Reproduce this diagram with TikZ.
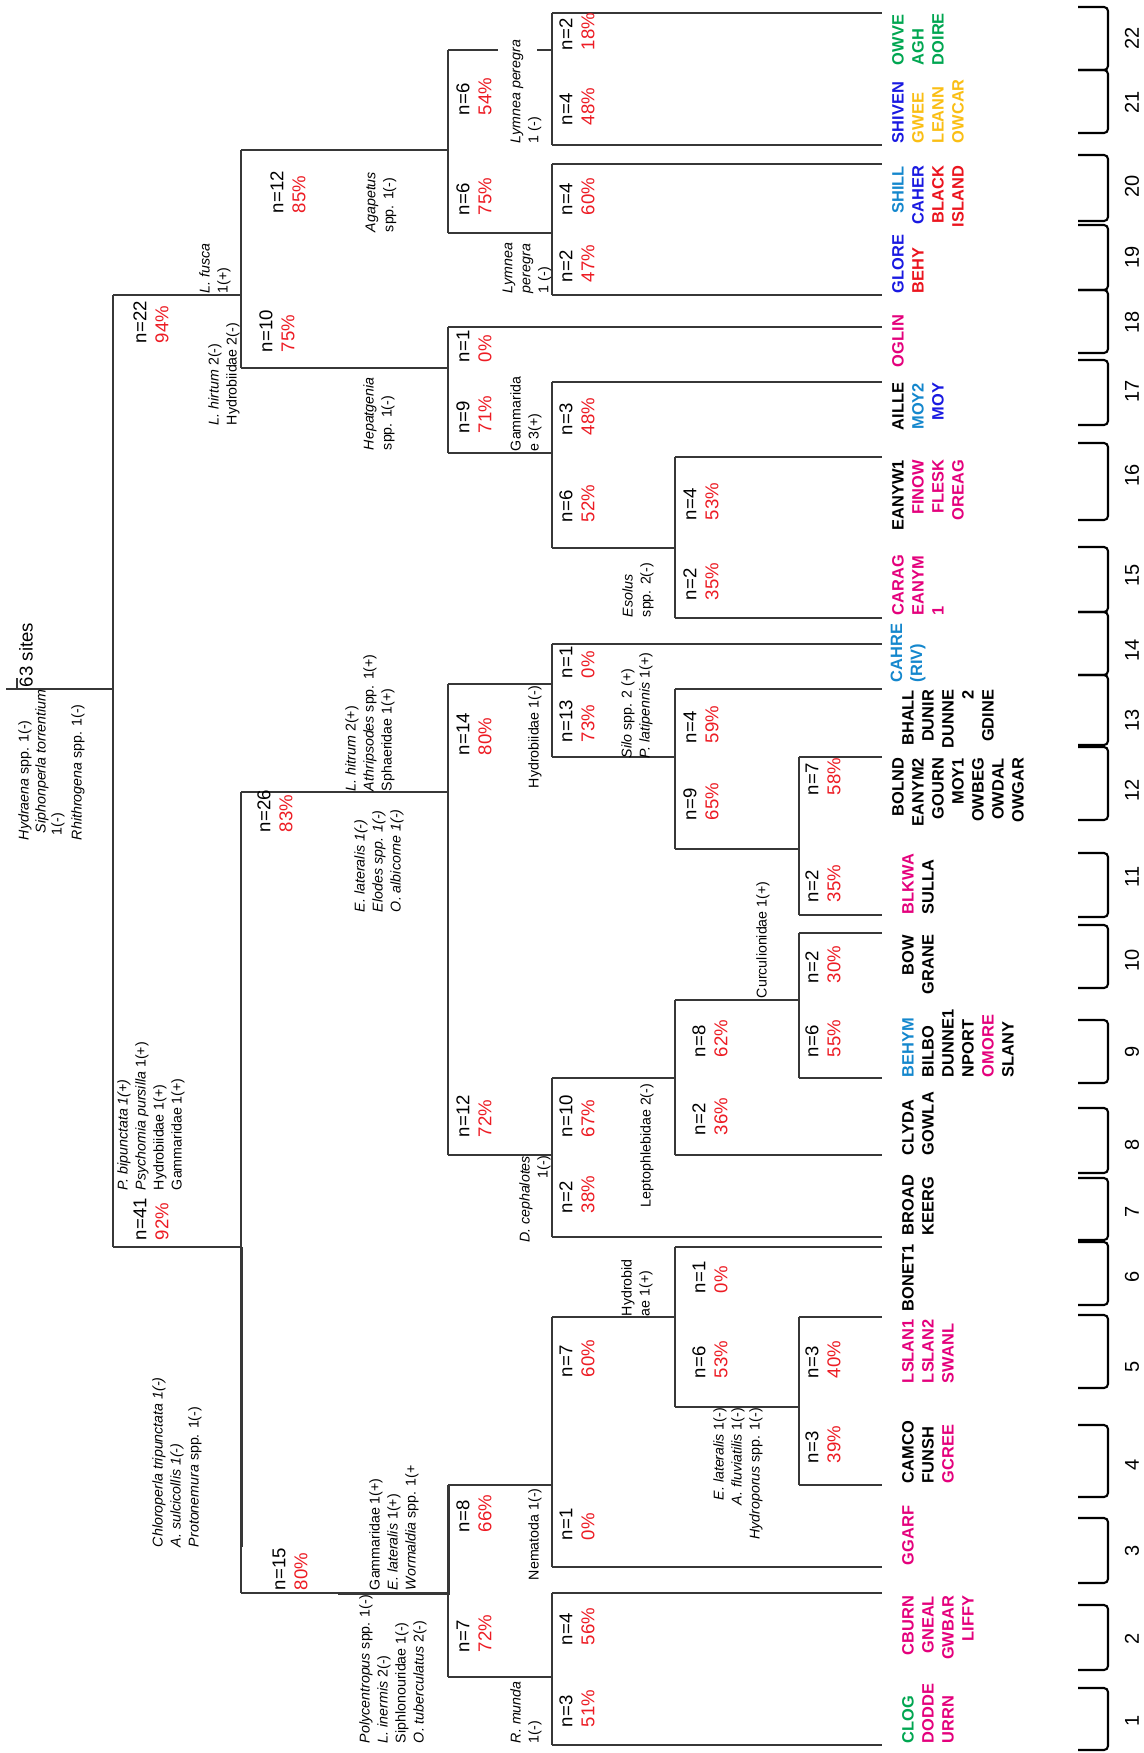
\documentclass[tikz,border=0pt]{standalone}
\usepackage{fontspec}
\setmainfont{Liberation Sans}
\definecolor{pr}{RGB}{237,28,36}
\definecolor{cg}{RGB}{0,166,81}
\definecolor{cm}{RGB}{228,0,124}
\definecolor{cb}{RGB}{25,25,225}
\definecolor{cl}{RGB}{20,135,205}
\definecolor{cy}{RGB}{250,190,20}
\definecolor{cr}{RGB}{235,20,30}
\definecolor{ln}{RGB}{55,55,55}
\begin{document}
\begin{tikzpicture}[x=0.5pt,y=-0.5pt,
  every node/.style={inner sep=0pt,outer sep=0pt},
  rot/.style={rotate=90},
  nlab/.style={rot,anchor=west,align=left,font=\fontsize{9.3}{11}\selectfont},
  sp/.style={rot,font=\fontsize{7.1}{9}\selectfont},
  spL/.style={sp,anchor=west,align=left},
  spR/.style={sp,anchor=east,align=right},
  site/.style={rot,font=\fontsize{8.2}{10}\selectfont\bfseries},
  siteL/.style={site,anchor=west,align=left},
  siteR/.style={site,anchor=east,align=right},
  grp/.style={rot,font=\fontsize{10}{12}\selectfont},
  tree/.style={line width=0.75pt,draw=ln},
  heavy/.style={line width=1.5pt,draw=ln},
  brk/.style={line width=1.05pt,draw=black,rounded corners=2pt}]
\fill[white] (0,0) rectangle (1144,1753);
\useasboundingbox (0,0) rectangle (1144,1753);

% ---------- tree coordinates ----------
\coordinate (E) at (882,0);
\coordinate (r0) at (6,689);
\coordinate (rs) at (17,678);
\coordinate (rsb) at (17,689);
\coordinate (Rt) at (113,295);  \coordinate (Rb) at (113,1247);
\coordinate (At) at (241,150);  \coordinate (Ab) at (241,368);
\coordinate (Bt) at (448,50);   \coordinate (Bb) at (448,233);
\coordinate (Ct) at (552,13);   \coordinate (Cb) at (552,145);
\coordinate (Dt) at (552,164);  \coordinate (Db) at (552,295);
\coordinate (Ft) at (448,327);  \coordinate (Fb) at (448,453);
\coordinate (Gt) at (552,382);  \coordinate (Gb) at (552,548);
\coordinate (Ht) at (675,457);  \coordinate (Hb) at (675,618);
\coordinate (It) at (241,792);  \coordinate (Ib) at (241,1593);
\coordinate (Jt) at (448,684);  \coordinate (Jb) at (448,1155);
\coordinate (Kt) at (552,644);  \coordinate (Kb) at (552,757);
\coordinate (Lt) at (675,689);  \coordinate (Lb) at (675,849);
\coordinate (Mt) at (799,757);  \coordinate (Mb) at (799,915);
\coordinate (Nt) at (552,1078); \coordinate (Nb) at (552,1237);
\coordinate (Ot) at (675,1000); \coordinate (Ob) at (675,1155);
\coordinate (Pt) at (799,933);  \coordinate (Pb) at (799,1078);
\coordinate (Qt) at (448,1485); \coordinate (Qb) at (448,1677);
\coordinate (St) at (552,1317); \coordinate (Sb) at (552,1567);
\coordinate (Tt) at (675,1247); \coordinate (Tb) at (675,1407);
\coordinate (Ut) at (799,1317); \coordinate (Ub) at (799,1485);
\coordinate (Vt) at (552,1593); \coordinate (Vb) at (552,1745);
\coordinate (g1) at (498,50);   \coordinate (g2) at (537,50);
\coordinate (Ih) at (241,1547); \coordinate (Qh) at (338,1593);

% root
\draw[tree] (r0) -- (r0 -| Rt);
\draw[tree] (rs) -- (rsb);
% vertical bars
\foreach \n in {R,A,B,C,D,F,G,H,I,J,K,L,M,N,O,P,Q,S,T,U,V}
  \draw[tree] (\n t) -- (\n b);
% connections
\draw[tree] (Rt) -- (Rt -| At);
\draw[tree] (At) -- (At -| Bt);
\draw[tree] (Bt) -- (g1);
\draw[tree] (g2) -- (Bt -| Ct);
\draw[tree] (Bb) -- (Bb -| Dt);
\draw[tree] (Ab) -- (Ab -| Ft);
\draw[tree] (Fb) -- (Fb -| Gt);
\draw[tree] (Gb) -- (Gb -| Ht);
\draw[tree] (Rb) -- (Rb -| It);
\draw[tree] (It) -- (It -| Jt);
\draw[tree] (Jt) -- (Jt -| Kt);
\draw[tree] (Kb) -- (Kb -| Lt);
\draw[tree] (Lb) -- (Lb -| Mt);
\draw[tree] (Jb) -- (Jb -| Nt);
\draw[tree] (Nt) -- (Nt -| Ot);
\draw[tree] (Ot) -- (Ot -| Pt);
\draw[tree] (Ib) -- (Ib -| Qt);
\draw[tree] (Qt) -- (Qt -| St);
\draw[tree] (St) -- (St -| Tt);
\draw[tree] (Tb) -- (Tb -| Ut);
\draw[tree] (Qb) -- (Qb -| Vt);
% heavy segments
\draw[heavy] (Rb -| It) -- (Ih);
\draw[heavy] (Qh) -- (Ib -| Qt) -- (Qt);
% leaves
\foreach \p in {Ct,Cb,Dt,Db,Ft,Gt,Ht,Hb,Kt,Lt,Mt,Mb,Pt,Pb,Ob,Nb,Tt,Ut,Ub,Sb,Vt,Vb}
  \draw[tree] (\p) -- (\p -| E);

% ---------- n / % labels ----------
\node[nlab] (root) at (26,687) {63 sites};
\node[nlab] (k1) at (151,343) {n=22\\\textcolor{pr}{94\%}};
\node[nlab] (k2) at (288,213) {n=12\\\textcolor{pr}{85\%}};
\node[nlab] (k3) at (277,352) {n=10\\\textcolor{pr}{75\%}};
\node[nlab] (k4) at (474,115) {n=6\\\textcolor{pr}{54\%}};
\node[nlab] (k5) at (474,215) {n=6\\\textcolor{pr}{75\%}};
\node[nlab] (k6) at (577,50) {n=2\\\textcolor{pr}{18\%}};
\node[nlab] (k7) at (577,125) {n=4\\\textcolor{pr}{48\%}};
\node[nlab] (k8) at (577,215) {n=4\\\textcolor{pr}{60\%}};
\node[nlab] (k9) at (577,282) {n=2\\\textcolor{pr}{47\%}};
\node[nlab] (k10) at (474,362) {n=1\\\textcolor{pr}{0\%}};
\node[nlab] (k11) at (474,433) {n=9\\\textcolor{pr}{71\%}};
\node[nlab] (k12) at (577,435) {n=3\\\textcolor{pr}{48\%}};
\node[nlab] (k13) at (577,522) {n=6\\\textcolor{pr}{52\%}};
\node[nlab] (k14) at (701,520) {n=4\\\textcolor{pr}{53\%}};
\node[nlab] (k15) at (701,600) {n=2\\\textcolor{pr}{35\%}};
\node[nlab] (k16) at (151,1240) {n=41\\\textcolor{pr}{92\%}};
\node[nlab] (k17) at (275,832) {n=26\\\textcolor{pr}{83\%}};
\node[nlab] (k18) at (474,755) {n=14\\\textcolor{pr}{80\%}};
\node[nlab] (k19) at (577,678) {n=1\\\textcolor{pr}{0\%}};
\node[nlab] (k20) at (577,742) {n=13\\\textcolor{pr}{73\%}};
\node[nlab] (k21) at (701,743) {n=4\\\textcolor{pr}{59\%}};
\node[nlab] (k22) at (701,820) {n=9\\\textcolor{pr}{65\%}};
\node[nlab] (k23) at (823,795) {n=7\\\textcolor{pr}{58\%}};
\node[nlab] (k24) at (823,902) {n=2\\\textcolor{pr}{35\%}};
\node[nlab] (k25) at (474,1137) {n=12\\\textcolor{pr}{72\%}};
\node[nlab] (k26) at (577,1137) {n=10\\\textcolor{pr}{67\%}};
\node[nlab] (k27) at (577,1213) {n=2\\\textcolor{pr}{38\%}};
\node[nlab] (k28) at (710,1057) {n=8\\\textcolor{pr}{62\%}};
\node[nlab] (k29) at (710,1135) {n=2\\\textcolor{pr}{36\%}};
\node[nlab] (k30) at (823,983) {n=2\\\textcolor{pr}{30\%}};
\node[nlab] (k31) at (823,1057) {n=6\\\textcolor{pr}{55\%}};
\node[nlab] (k32) at (290,1590) {n=15\\\textcolor{pr}{80\%}};
\node[nlab] (k33) at (474,1532) {n=8\\\textcolor{pr}{66\%}};
\node[nlab] (k34) at (474,1652) {n=7\\\textcolor{pr}{72\%}};
\node[nlab] (k35) at (577,1645) {n=4\\\textcolor{pr}{56\%}};
\node[nlab] (k36) at (577,1727) {n=3\\\textcolor{pr}{51\%}};
\node[nlab] (k37) at (577,1377) {n=7\\\textcolor{pr}{60\%}};
\node[nlab] (k38) at (577,1540) {n=1\\\textcolor{pr}{0\%}};
\node[nlab] (k39) at (710,1293) {n=1\\\textcolor{pr}{0\%}};
\node[nlab] (k40) at (710,1378) {n=6\\\textcolor{pr}{53\%}};
\node[nlab] (k41) at (823,1378) {n=3\\\textcolor{pr}{40\%}};
\node[nlab] (k42) at (823,1463) {n=3\\\textcolor{pr}{39\%}};

% ---------- indicator species ----------
\node[spL] (sp1) at (25,840) {\textit{Hydraena} spp. 1(-)};
\node[spL] (sp2) at (42,833) {\textit{Siphonperla torrentium}};
\node[spL] (sp3) at (58,835) {1(-)};
\node[spL] (sp4) at (78,840) {\textit{Rhithrogena} spp. 1(-)};
\node[spL] (sp5) at (215,293) {\textit{L. fusca}\\1(+)};
\node[spL] (sp6) at (224,425) {\textit{L. hirtum} 2(-)\\Hydrobiidae 2(-)};
\node[spL] (sp7) at (381,232) {\textit{Agapetus}\\spp. 1(-)};
\node[spL] (sp8) at (526,143) {\textit{Lymnea peregra}\\1 (-)};
\node[spL] (sp9) at (527,293) {\textit{Lymnea}\\\textit{peregra}\\1 (-)};
\node[spL] (sp10) at (379,450) {\textit{Hepatgenia}\\spp. 1(-)};
\node[spL] (sp11) at (526,451) {Gammarida\\e 3(+)};
\node[spL] (sp12) at (638,617) {\textit{Esolus}\\spp. 2(-)};
\node[spL] (sp13) at (151,1190) {\textit{P. bipunctata 1(+)}\\\textit{Psychomia pursilla} 1(+)\\Hydrobiidae 1(+)\\Gammaridae 1(+)};
\node[spL] (sp14) at (370,791) {\textit{L. hitrum} 2(+)\\\textit{Athripsodes} spp. 1(+)\\Sphaeridae 1(+)};
\node[spL] (sp15) at (379,912) {\textit{E. lateralis 1(-)}\\\textit{Elodes spp. 1(-)}\\\textit{O. albicorne 1(-)}};
\node[spL] (sp16) at (535,788) {Hydrobiidae 1(-)};
\node[spL] (sp17) at (637,758) {\textit{Silo} spp. 2 (+)\\\textit{P. latipennis} 1(+)};
\node[spR] (sp18) at (535,1156) {\textit{D. cephalotes}\\1(-)};
\node[spL] (sp19) at (647,1207) {Leptophlebidae 2(-)};
\node[spL] (sp20) at (763,998) {Curculionidae 1(+)};
\node[spL] (sp21) at (177,1547) {\textit{Chloroperla tripunctata 1(-)}\\\textit{A. sulcicollis 1(-)}\\\textit{Protonemura} spp. 1(-)};
\node[spL] (sp22) at (393,1743) {\textit{Polycentropus} spp. 1(-)\\\textit{L. inermis} 2(-)\\Siphlonouridae 1(-)\\\textit{O. tuberculatus} 2(-)};
\node[spL] (sp23) at (394,1590) {Gammaridae 1(+)\\\textit{E. lateralis} 1(+)\\\textit{Wormaldia} spp. 1(+};
\node[spL] (sp24) at (526,1743) {\textit{R. munda}\\1(-)};
\node[spL] (sp25) at (535,1580) {Nematoda 1(-)};
\node[spL] (sp26) at (637,1316) {Hydrobid\\ae 1(+)};
\node[spR] (sp27) at (738,1408) {\textit{E. lateralis} 1(-)\\\textit{A. fluviatilis} 1(-)\\\textit{Hydroporus} spp. 1(-)};

% ---------- sites ----------
\node[siteL,text=cg] (s22) at (918,65) {OWVE\\AGH\\DOIRE};
\node[siteL] (s21) at (928,143) {\textcolor{cb}{SHIVEN}\\\textcolor{cy}{GWEE}\\\textcolor{cy}{LEANN}\\\textcolor{cy}{OWCAR}};
\node[siteR] (s20) at (928,166) {\textcolor{cl}{SHILL}\\\textcolor{cb}{CAHER}\\\textcolor{cr}{BLACK}\\\textcolor{cr}{ISLAND}};
\node[siteL] (s19) at (908,293) {\textcolor{cb}{GLORE}\\\textcolor{cr}{BEHY}};
\node[siteL,text=cm] (s18) at (898,367) {OGLIN};
\node[siteR] (s17) at (918,383) {AILLE\\\textcolor{cl}{MOY2}\\\textcolor{cb}{MOY}};
\node[siteR] (s16) at (928,460) {EANYW1\\\textcolor{cm}{FINOW}\\\textcolor{cm}{FLESK}\\\textcolor{cm}{OREAG}};
\node[siteL,text=cm] (s15) at (918,615) {CARAG\\EANYM\\1};
\node[siteL,text=cl] (s14) at (908,682) {CAHRE\\(RIV)};
\node[siteR] (s13) at (948,690) {BHALL\\DUNIR\\DUNNE\\2\\GDINE};
\node[siteR] (s12) at (958,758) {BOLND\\EANYM2\\GOURN\\MOY1\\OWBEG\\OWDAL\\OWGAR};
\node[siteL] (s11) at (918,914) {\textcolor{cm}{BLKWA}\\SULLA};
\node[siteR] (s10) at (918,935) {BOW\\GRANE};
\node[siteL] (s9) at (958,1077) {\textcolor{cl}{BEHYM}\\BILBO\\DUNNE1\\NPORT\\\textcolor{cm}{OMORE}\\SLANY};
\node[siteL] (s8) at (918,1155) {CLYDA\\GOWLA};
\node[siteL] (s7) at (918,1235) {BROAD\\KEERG};
\node[siteL] (s6) at (908,1311) {BONET1};
\node[siteL,text=cm] (s5) at (928,1383) {LSLAN1\\LSLAN2\\SWANL};
\node[siteL] (s4) at (928,1483) {CAMCO\\FUNSH\\\textcolor{cm}{GCREE}};
\node[siteL,text=cm] (s3) at (908,1565) {GGARF};
\node[siteR,text=cm] (s2) at (938,1596) {CBURN\\GNEAL\\GWBAR\\LIFFY};
\node[siteL] (s1) at (928,1743) {\textcolor{cg}{CLOG}\\\textcolor{cm}{DODDE}\\\textcolor{cm}{URRN}};

% ---------- group brackets and numbers ----------
\foreach \n/\a/\b/\c in {22/7/70/38,21/70/133/102,20/155/221/186,19/225/290/257,
  18/290/353/322,17/360/425/391,16/443/520/475,15/547/612/575,14/612/675/650,
  13/675/745/720,12/747/820/790,11/853/917/877,10/925/988/960,9/1020/1083/1052,
  8/1108/1173/1145,7/1178/1240/1212,6/1242/1305/1277,5/1315/1388/1367,
  4/1425/1497/1465,3/1518/1583/1551,2/1605/1670/1639,1/1688/1750/1721}{
  \coordinate (bt\n) at (1078,\a);
  \coordinate (bb\n) at (1078,\b);
  \coordinate (bs\n) at (1108,0);
  \draw[brk] (bt\n) -- (bt\n -| bs\n) -- (bb\n -| bs\n) -- (bb\n);
  \node[grp] (gn\n) at (1132,\c) {\n};
}
\end{tikzpicture}
\end{document}
